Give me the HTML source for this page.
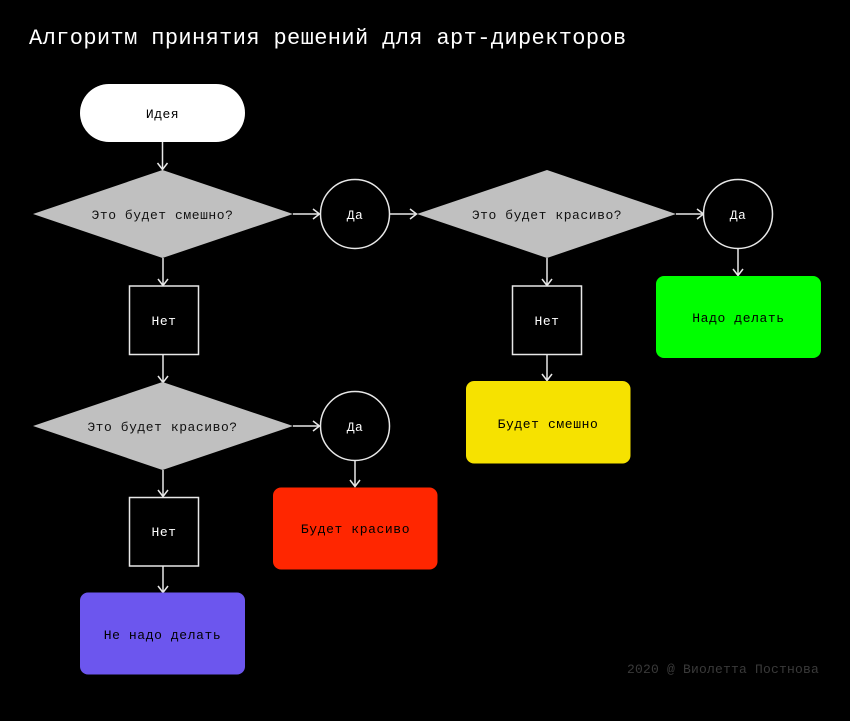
<!DOCTYPE html>
<html><head><meta charset="utf-8"><style>
html,body{margin:0;padding:0;background:#000;}
svg{display:block;}
text{font-family:"Liberation Mono","DejaVu Sans Mono",monospace;}
</style></head><body>
<svg width="850" height="721" viewBox="0 0 850 721" xmlns="http://www.w3.org/2000/svg">
<rect width="850" height="721" fill="#000"/>
<text x="29" y="44" font-size="22" fill="#fff" letter-spacing="0.38">Алгоритм принятия решений для арт-директоров</text>

<!-- Idea -->
<rect x="80" y="84" width="165" height="58" rx="29" fill="#fff"/>
<text x="162.5" y="118" font-size="13" fill="#000" text-anchor="middle" letter-spacing="0.5">Идея</text>

<g stroke="#e8e8e8" stroke-width="1.5" fill="none">
<line x1="162.5" y1="142" x2="162.5" y2="169"/>
<polyline points="157.5,163 162.5,169.5 167.5,163"/>
<line x1="293" y1="214" x2="319" y2="214"/>
<polyline points="313,209 319.5,214 313,219"/>
<line x1="389" y1="214" x2="416" y2="214"/>
<polyline points="410,209 416.5,214 410,219"/>
<line x1="676" y1="214" x2="703" y2="214"/>
<polyline points="697,209 703.5,214 697,219"/>
<line x1="738" y1="248" x2="738" y2="275"/>
<polyline points="733,269 738,275.5 743,269"/>
<line x1="547" y1="258" x2="547" y2="285"/>
<polyline points="542,279 547,285.5 552,279"/>
<line x1="547" y1="354" x2="547" y2="380"/>
<polyline points="542,374 547,380.5 552,374"/>
<line x1="163" y1="258" x2="163" y2="285"/>
<polyline points="158,279 163,285.5 168,279"/>
<line x1="163" y1="354" x2="163" y2="382"/>
<polyline points="158,376 163,382.5 168,376"/>
<line x1="293" y1="426" x2="319" y2="426"/>
<polyline points="313,421 319.5,426 313,431"/>
<line x1="355" y1="460" x2="355" y2="486"/>
<polyline points="350,480 355,486.5 360,480"/>
<line x1="163" y1="470" x2="163" y2="496"/>
<polyline points="158,490 163,496.5 168,490"/>
<line x1="163" y1="566" x2="163" y2="592"/>
<polyline points="158,586 163,592.5 168,586"/>
</g>

<polygon points="33,214 162.5,170 293,214 162.5,258" fill="#c0c0c0"/>
<polygon points="417,214 547,170 676,214 547,258" fill="#c0c0c0"/>
<polygon points="33,426 162.5,382 293,426 162.5,470" fill="#c0c0c0"/>
<text x="162.5" y="219" font-size="13" fill="#111" text-anchor="middle" letter-spacing="0.55">Это будет смешно?</text>
<text x="547" y="219" font-size="13" fill="#111" text-anchor="middle" letter-spacing="0.55">Это будет красиво?</text>
<text x="162.5" y="431" font-size="13" fill="#111" text-anchor="middle" letter-spacing="0.55">Это будет красиво?</text>

<g stroke="#e8e8e8" stroke-width="1.5" fill="#000">
<circle cx="355" cy="214" r="34.5"/>
<circle cx="738" cy="214" r="34.5"/>
<circle cx="355" cy="426" r="34.5"/>
<rect x="129.5" y="286" width="69" height="68.5"/>
<rect x="512.5" y="286" width="69" height="68.5"/>
<rect x="129.5" y="497.5" width="69" height="68.5"/>
</g>
<g font-size="13" fill="#fff" text-anchor="middle" letter-spacing="0.5">
<text x="355" y="219">Да</text>
<text x="738" y="219">Да</text>
<text x="355" y="431">Да</text>
<text x="164" y="325">Нет</text>
<text x="547" y="325">Нет</text>
<text x="164" y="536">Нет</text>
</g>

<rect x="656" y="276" width="165" height="82" rx="8" fill="#00ff00"/>
<rect x="466" y="381" width="164.5" height="82.5" rx="8" fill="#f6e200"/>
<rect x="273" y="487.5" width="164.5" height="82" rx="8" fill="#ff2600"/>
<rect x="80" y="592.5" width="165" height="82" rx="8" fill="#6c56ee"/>
<g font-size="13" fill="#000" text-anchor="middle" letter-spacing="0.6">
<text x="738.5" y="322">Надо делать</text>
<text x="548" y="428">Будет смешно</text>
<text x="355.5" y="533">Будет красиво</text>
<text x="162.5" y="639">Не надо делать</text>
</g>

<text x="627" y="673" font-size="13" fill="#3a3a3a" letter-spacing="0.2">2020 @ Виолетта Постнова</text>
</svg>
</body></html>
